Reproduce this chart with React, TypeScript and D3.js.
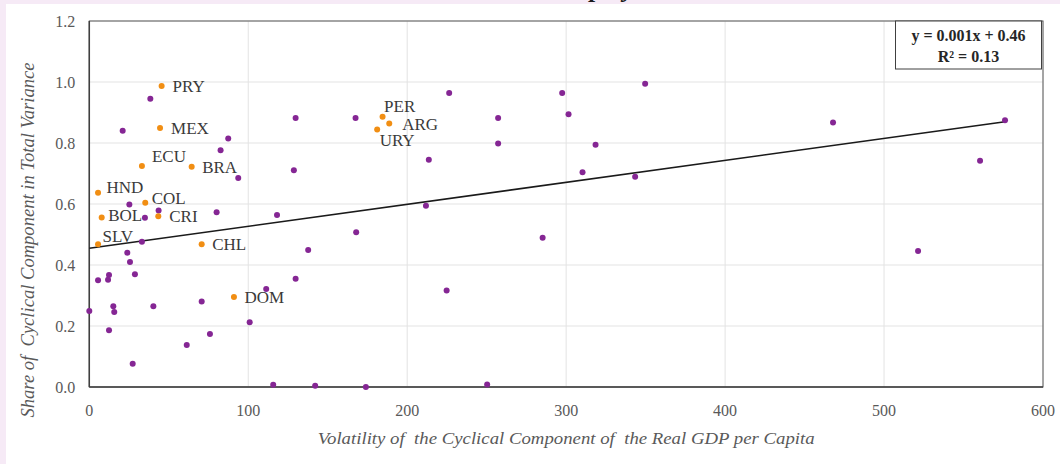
import React from "react";
import * as d3 from "d3";

// Highlighted countries (orange)
const countries = ["PRY", "MEX", "ECU", "BRA", "HND", "COL", "BOL", "CRI", "SLV", "CHL", "DOM", "PER", "ARG", "URY"];
const countryVolatility = [45.5, 44.5, 33.1, 64.4, 5.5, 35.2, 7.8, 43.4, 5.5, 70.7, 91.0, 184.5, 188.7, 181.1];
const countryShare = [0.987, 0.849, 0.725, 0.722, 0.637, 0.604, 0.556, 0.56, 0.468, 0.468, 0.295, 0.886, 0.864, 0.844];

// Other economies (purple)
const otherVolatility = [
  38.4, 21.0, 87.4, 82.6, 129.8, 167.5, 128.7, 93.7, 25.2, 43.6, 35.0, 80.1, 118.1, 167.9, 33.1, 23.9, 137.7,
  25.6, 5.5, 12.4, 11.8, 28.7, 129.8, 111.3, 0.0, 15.1, 15.7, 40.3, 70.7, 100.9, 12.4, 75.9, 61.3, 27.3,
  115.7, 142.1, 174.0, 226.4, 257.2, 257.2, 213.6, 211.8, 297.5, 301.5, 318.5, 310.3, 343.4, 349.7, 285.2,
  224.8, 250.3, 467.9, 576.1, 560.4, 521.4,
];
const otherShare = [
  0.945, 0.84, 0.815, 0.776, 0.882, 0.882, 0.711, 0.685, 0.598, 0.579, 0.555, 0.573, 0.564, 0.507, 0.476, 0.44, 0.449,
  0.41, 0.35, 0.367, 0.352, 0.37, 0.355, 0.321, 0.249, 0.265, 0.246, 0.265, 0.28, 0.212, 0.186, 0.174, 0.138, 0.076,
  0.007, 0.004, 0.0, 0.964, 0.882, 0.798, 0.745, 0.594, 0.964, 0.894, 0.794, 0.704, 0.689, 0.994, 0.489,
  0.316, 0.008, 0.867, 0.875, 0.742, 0.446,
];

const xTicks = [0, 100, 200, 300, 400, 500, 600];
const yTicks = [0, 0.2, 0.4, 0.6, 0.8, 1.0, 1.2];
const trendSlope = 0.00072;
const trendIntercept = 0.455;
const trendEquation = "y = 0.001x + 0.46";
const trendR2 = "R² = 0.13";
const xTitle = "Volatility of  the Cyclical Component of  the Real GDP per Capita";
const yTitle = "Share of  Cyclical Component in Total Variance";

// label placement (styling)
const labelOffsets: Record<string, [number, number]> = {
  PRY: [11, 0], MEX: [11, 0], ECU: [10, -10], BRA: [10.5, 0], HND: [8.5, -5.5], COL: [6.5, -5],
  BOL: [6.5, -2], CRI: [11, 0], SLV: [4.5, -8.5], CHL: [10.5, 0], DOM: [10.5, 0], PER: [1.5, -10.5],
  ARG: [13, 0.5], URY: [2.5, 10.5],
};

const W = 1060, H = 464;
const L = 89.3, R = 1043, T = 21, B = 387;
const ORANGE = "#F18E13";
const PURPLE = "#852694";
const FONT = "'Liberation Serif', 'DejaVu Serif', serif";

export default function App() {
  const x = d3.scaleLinear().domain([0, 600]).range([L, R]);
  const y = d3.scaleLinear().domain([0, 1.2]).range([B, T]);
  const maxX = d3.max(otherVolatility.concat(countryVolatility)) as number;
  const trend = d3.line<number>().x((v) => x(v)).y((v) => y(trendIntercept + trendSlope * v));

  return (
    <svg width={W} height={H} style={{ position: "fixed", left: 0, top: 0, display: "block" }}>
      <rect x={0} y={0} width={W} height={H} fill="#F6EAF6" />
      <rect x={6} y={4} width={W - 6} height={H - 4} fill="#FFFFFF" />
      <text x={590} y={-3} fontFamily={FONT} fontSize={26} fontWeight="bold" fontStyle="italic" fill="#1a1a1a">ploy</text>

      {/* grid */}
      {yTicks.map((t) => (
        <line key={"gy" + t} x1={L} x2={R} y1={y(t)} y2={y(t)} stroke="#E3E3E3" strokeWidth={1} />
      ))}
      {xTicks.map((t) => (
        <line key={"gx" + t} x1={x(t)} x2={x(t)} y1={T} y2={B} stroke="#E3E3E3" strokeWidth={1} />
      ))}

      {/* frame */}
      <rect x={L} y={T} width={R - L} height={B - T} fill="none" stroke="#595959" strokeWidth={1} />
      <line x1={L} x2={L} y1={T} y2={B} stroke="#404040" strokeWidth={1.5} />
      <line x1={L} x2={R} y1={B} y2={B} stroke="#404040" strokeWidth={1.5} />

      {/* tick labels */}
      {yTicks.map((t) => (
        <text key={"ty" + t} x={L - 14} y={y(t)} dy="0.35em" textAnchor="end" fontFamily={FONT} fontSize={16} fill="#595959">
          {d3.format(".1f")(t)}
        </text>
      ))}
      {xTicks.map((t) => (
        <text key={"tx" + t} x={x(t)} y={B + 23} dy="0.35em" textAnchor="middle" fontFamily={FONT} fontSize={16} fill="#595959">
          {t}
        </text>
      ))}

      {/* axis titles */}
      <text x={(L + R) / 2} y={438} dy="0.35em" textAnchor="middle" fontFamily={FONT} fontSize={17} fontStyle="italic" fill="#595959" textLength={497} lengthAdjust="spacingAndGlyphs" style={{ whiteSpace: "pre" }}>
        {xTitle}
      </text>
      <text transform={`translate(28,${240}) rotate(-90)`} textAnchor="middle" dy="0.35em" fontFamily={FONT} fontSize={18} fontStyle="italic" fill="#595959" textLength={355} lengthAdjust="spacingAndGlyphs" style={{ whiteSpace: "pre" }}>
        {yTitle}
      </text>

      {/* trend line */}
      <path d={trend([0, maxX]) || ""} fill="none" stroke="#1a1a1a" strokeWidth={1.6} />

      {/* points */}
      {otherVolatility.map((v, i) => (
        <circle key={"o" + i} cx={x(v)} cy={y(otherShare[i])} r={3} fill={PURPLE} />
      ))}
      {countries.map((c, i) => (
        <circle key={"c" + c} cx={x(countryVolatility[i])} cy={y(countryShare[i])} r={3} fill={ORANGE} />
      ))}
      {countries.map((c, i) => {
        const [dx, dy] = labelOffsets[c];
        return (
          <text key={"l" + c} x={x(countryVolatility[i]) + dx} y={y(countryShare[i]) + dy} dy="0.35em" fontFamily={FONT} fontSize={17} fill="#3a3a3a">
            {c}
          </text>
        );
      })}

      {/* equation box */}
      <rect x={895.5} y={21} width={146} height={48} fill="#FFFFFF" stroke="#404040" strokeWidth={1} />
      <text x={968.5} y={35} dy="0.35em" textAnchor="middle" fontFamily={FONT} fontSize={16} fontWeight="bold" fill="#262626">{trendEquation}</text>
      <text x={968.5} y={56.5} dy="0.35em" textAnchor="middle" fontFamily={FONT} fontSize={16} fontWeight="bold" fill="#262626">{trendR2}</text>
    </svg>
  );
}
